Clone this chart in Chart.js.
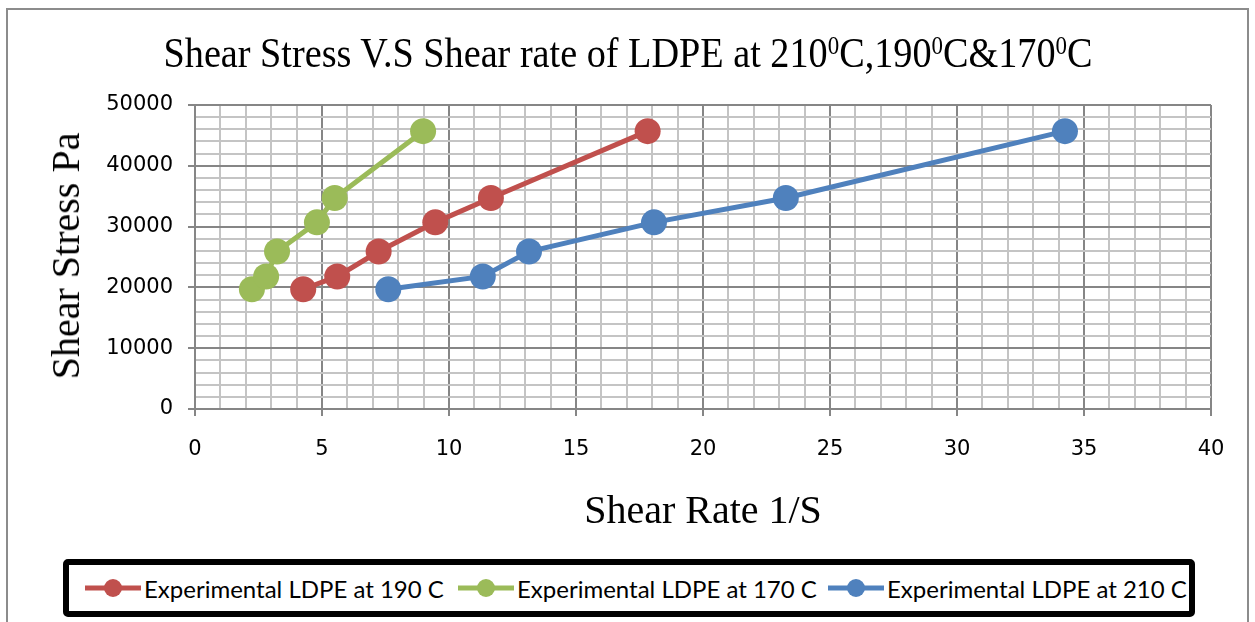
<!DOCTYPE html>
<html>
<head>
<meta charset="utf-8">
<script src="https://cdn.jsdelivr.net/npm/chart.js@4.4.1/dist/chart.umd.min.js"></script>
<style>
  html, body { margin: 0; padding: 0; background: #fff; width: 1255px; height: 622px; overflow: hidden; }
  #frame { position: absolute; left: 6px; top: 8px; width: 1243px; height: 700px; border: 2px solid #8c8c8c; box-sizing: border-box; }
  #wrap { position: absolute; left: 0; top: 0; width: 1255px; height: 622px; }
  .t { position: absolute; white-space: nowrap; font-family: "Liberation Serif", "Times New Roman", serif; color: #000; transform: translate(-50%, -50%); line-height: 1; }
  sup { font-size: 0.6em; vertical-align: 0.5em; line-height: 0; }
  #legend { position: absolute; left: 63px; top: 559px; width: 1132px; height: 58px; box-sizing: border-box; border: 6px solid #000; border-radius: 5px; background: #fff; }
  .li { position: absolute; top: 0; height: 46px; display: flex; align-items: center; font-family: Lato, "Liberation Sans", sans-serif; font-size: 24px; color: #000; white-space: nowrap; }
  .li svg { margin-right: 3px; }
</style>
</head>
<body>
<div id="frame"></div>
<div id="wrap"><canvas id="c" width="1255" height="622"></canvas></div>
<div class="t" id="title" style="left:628px; top:53px; font-size:42px; transform: translate(-50%, -50%) scaleX(0.91);">Shear Stress V.S Shear rate of LDPE at 210<sup>0</sup>C,190<sup>0</sup>C&amp;170<sup>0</sup>C</div>
<div class="t" id="xtitle" style="left:703px; top:510px; font-size:40px;">Shear Rate 1/S</div>
<div class="t" id="ytitle" style="left:66px; top:256px; font-size:40px; transform: translate(-50%, -50%) rotate(-90deg);">Shear Stress Pa</div>
<div id="legend"></div>
<script>
// ---- data ----
const shearStress = [19700, 21800, 25900, 30700, 34700, 45700];
const shearRate190 = [4.26, 5.6, 7.23, 9.46, 11.65, 17.82];
const shearRate170 = [2.24, 2.8, 3.23, 4.8, 5.5, 8.98];
const shearRate210 = [7.61, 11.33, 13.15, 18.07, 23.26, 34.25];
const seriesNames = ["Experimental LDPE at 190 C", "Experimental LDPE at 170 C", "Experimental LDPE at 210 C"];
const seriesColors = ["#C0504D", "#9BBB59", "#4F81BD"];
const xTickLabels = [0, 5, 10, 15, 20, 25, 30, 35, 40];
const yTickLabels = [0, 10000, 20000, 30000, 40000, 50000];

const rates = [shearRate190, shearRate170, shearRate210];
const datasets = rates.map((r, i) => ({
  label: seriesNames[i],
  data: r.map((x, j) => ({ x: x, y: shearStress[j] })),
  showLine: true,
  borderColor: seriesColors[i],
  backgroundColor: seriesColors[i],
  borderWidth: 5,
  pointRadius: 13,
  pointHoverRadius: 13,
  pointBorderWidth: 0,
  tension: 0
}));

const majorC = '#868686', minorC = '#c4c4c4';
new Chart(document.getElementById('c'), {
  type: 'scatter',
  data: { datasets },
  options: {
    responsive: false,
    animation: false,
    devicePixelRatio: 1,
    layout: { padding: { top: 105, right: 44, bottom: 0, left: 0 } },
    plugins: { legend: { display: false }, title: { display: false }, tooltip: { enabled: false } },
    scales: {
      x: {
        type: 'linear', min: 0, max: 40,
        afterFit: s => { s.height = 213; },
        ticks: {
          stepSize: 1, autoSkip: false, maxRotation: 0, padding: 21,
          color: '#000', font: { family: 'DejaVu Sans', size: 21 },
          callback: v => xTickLabels.includes(v) ? String(v) : ''
        },
        grid: {
          color: c => (c.tick && c.tick.value % 5 === 0) ? majorC : minorC,
          tickColor: c => (c.tick && c.tick.value % 5 === 0) ? majorC : 'rgba(0,0,0,0)',
          lineWidth: 2, tickLength: 7
        },
        border: { color: majorC, width: 2 }
      },
      y: {
        type: 'linear', min: 0, max: 50000,
        afterFit: s => { s.width = 195; },
        ticks: {
          stepSize: 2000, autoSkip: false, padding: 15,
          color: '#000', font: { family: 'DejaVu Sans', size: 21 },
          callback: v => yTickLabels.includes(v) ? String(v) : ''
        },
        grid: {
          color: c => (c.tick && c.tick.value % 10000 === 0) ? majorC : minorC,
          tickColor: c => (c.tick && c.tick.value % 10000 === 0) ? majorC : 'rgba(0,0,0,0)',
          lineWidth: 2, tickLength: 7
        },
        border: { color: majorC, width: 2 }
      }
    }
  }
});

// legend
const legendX = [16, 389, 759];
const lg = document.getElementById('legend');
seriesNames.forEach((n, i) => {
  const d = document.createElement('div');
  d.className = 'li';
  d.style.left = legendX[i] + 'px';
  d.innerHTML = '<svg width="56" height="24"><line x1="0" y1="12" x2="56" y2="12" stroke="' + seriesColors[i] + '" stroke-width="5"/><circle cx="28" cy="12" r="9" fill="' + seriesColors[i] + '"/></svg><span>' + n + '</span>';
  lg.appendChild(d);
});
</script>
</body>
</html>
